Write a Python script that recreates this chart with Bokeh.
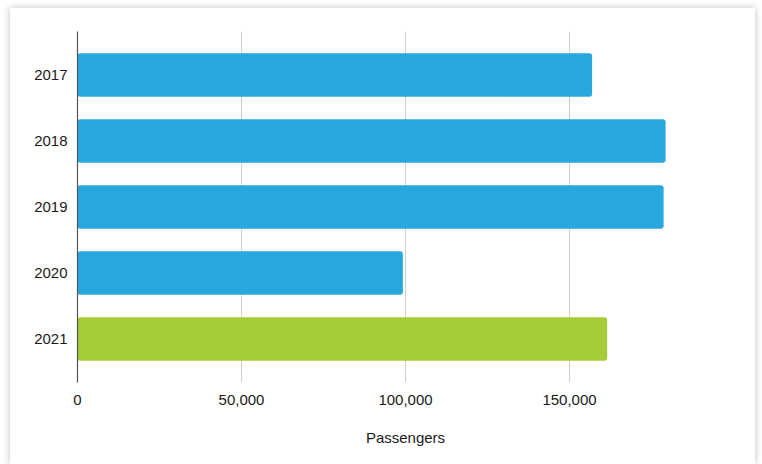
from bokeh.plotting import figure
from bokeh.models import FactorRange, Range1d, FixedTicker, NumeralTickFormatter, ColumnDataSource
from bokeh.embed import file_html
from bokeh.resources import INLINE

years = ["2017", "2018", "2019", "2020", "2021"]
passengers = [156900, 179300, 178700, 99200, 161500]
bar_colors = ["#29A8E0", "#29A8E0", "#29A8E0", "#29A8E0", "#A5CD39"]
x_ticks = [0, 50000, 100000, 150000, 200000]
x_title = "Passengers"

FONT = "Liberation Sans"

source = ColumnDataSource(dict(year=years, value=passengers, color=bar_colors))

p = figure(
    width=745, height=456,
    y_range=FactorRange(factors=list(reversed(years)), range_padding=0.0636),
    x_range=Range1d(0, 200000),
    output_backend="svg", toolbar_location=None,
    min_border_left=67, min_border_right=22, min_border_top=23, min_border_bottom=82,
)
p.margin = (8, 0, 0, 10)
p.styles = {"box-shadow": "0px 0px 7px rgba(0,0,0,0.25)"}
p.outline_line_color = None
p.background_fill_color = "white"
p.border_fill_color = "white"

p.hbar(y="year", right="value", left=0, height=0.66, color="color", line_color=None,
       border_radius=3, source=source)

# x axis
p.xaxis.ticker = FixedTicker(ticks=x_ticks)
p.xaxis.formatter = NumeralTickFormatter(format="0,0")
p.xaxis.major_label_overrides = {200000: ""}
p.xaxis.axis_line_color = None
p.xaxis.major_tick_line_color = None
p.xaxis.minor_tick_line_color = None
p.xaxis.major_label_text_font = FONT
p.xaxis.major_label_text_font_size = "15px"
p.xaxis.major_label_text_color = "#1a1a1a"
p.xaxis.major_label_standoff = 6
p.xaxis.axis_label = x_title
p.xaxis.axis_label_text_font = FONT
p.xaxis.axis_label_text_font_size = "15px"
p.xaxis.axis_label_text_font_style = "normal"
p.xaxis.axis_label_text_color = "#1a1a1a"
p.xaxis.axis_label_standoff = 21

# y axis
p.yaxis.axis_line_color = "#555555"
p.yaxis.axis_line_width = 1.2
p.yaxis.major_tick_line_color = None
p.yaxis.minor_tick_line_color = None
p.yaxis.major_label_text_font = FONT
p.yaxis.major_label_text_font_size = "15px"
p.yaxis.major_label_text_color = "#1a1a1a"
p.yaxis.major_label_standoff = 4

p.xgrid.grid_line_color = "#d0d0d0"
p.xgrid.grid_line_width = 1
p.ygrid.grid_line_color = None

open("out.html", "w").write(file_html(p, INLINE))
